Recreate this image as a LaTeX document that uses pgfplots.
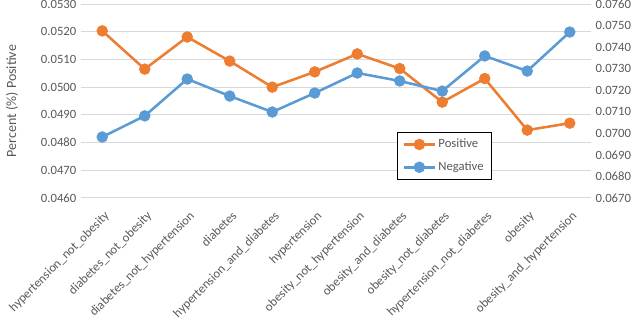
\documentclass[border=0pt]{standalone}
\usepackage{pgfplots}
\pgfplotsset{compat=1.18}
\usetikzlibrary{calc}
\usepackage{fontspec}
\setmainfont{Carlito}
\definecolor{poscol}{HTML}{ED7D31}
\definecolor{negcol}{HTML}{5B9BD5}
\definecolor{txt}{HTML}{595959}
\definecolor{grd}{HTML}{D9D9D9}

\pgfplotsset{
  common/.style={
    scale only axis, width=382.5pt, height=145.5pt,
    xmin=-0.5, xmax=11.5,
    axis line style={draw=none},
    major tick style={draw=none},
    scaled y ticks=false,
    tick label style={font=\fontsize{9.5}{11}\selectfont, text=txt},
    yticklabel style={/pgf/number format/.cd, fixed, fixed zerofill, precision=4, assume math mode=true},
  },
}

\begin{document}
\begin{tikzpicture}
\begin{axis}[
  common, name=ax,
  ymin=0.046, ymax=0.053,
  ytick={0.046,0.047,...,0.0535},
  ymajorgrids, grid style={grd, line width=0.75pt},
  xtick=data,
  xticklabels={hypertension\_not\_obesity, diabetes\_not\_obesity, diabetes\_not\_hypertension, diabetes, hypertension\_and\_diabetes, hypertension, obesity\_not\_hypertension, obesity\_and\_diabetes, obesity\_not\_diabetes, hypertension\_not\_diabetes, obesity, obesity\_and\_hypertension},
  xticklabel style={xshift=1pt, yshift=-9pt, rotate=45, anchor=north east, inner sep=0pt},
  ylabel={Percent (\%) Positive},
  ylabel style={at={(axis description cs:-0.1353,0.5)}, anchor=center, font=\fontsize{10.5}{12}\selectfont, text=txt},
]
\addplot[poscol, line width=1.9pt, mark=*, mark size=3.3pt] coordinates {
  (0,0.05203) (1,0.05065) (2,0.05181) (3,0.05094) (4,0.05000) (5,0.05055)
  (6,0.05120) (7,0.05067) (8,0.04946) (9,0.05031) (10,0.04845) (11,0.04870)
};
\end{axis}
\begin{axis}[
  common,
  ymin=0.067, ymax=0.076,
  ytick={0.067,0.068,...,0.0765},
  axis y line*=right,
  axis x line=none,
  legend style={at={(0.62,0.34)}, anchor=north west, draw=black, line width=0.6pt,
    font=\fontsize{9.5}{11}\selectfont, text=txt, row sep=5pt, inner xsep=4pt, inner ysep=3pt},
  legend cell align=left,
  legend image code/.code={\draw[mark repeat=2, mark phase=2] plot coordinates {(0cm,0cm) (0.4cm,0cm) (0.8cm,0cm)};},
]
\addlegendimage{poscol, line width=1.9pt, mark=*, mark size=3.3pt}
\addlegendentry{Positive}
\addplot[negcol, line width=1.9pt, mark=*, mark size=3.3pt] coordinates {
  (0,0.06983) (1,0.07081) (2,0.07252) (3,0.07173) (4,0.07099) (5,0.07187)
  (6,0.07280) (7,0.07243) (8,0.07196) (9,0.07359) (10,0.07289) (11,0.07470)
};
\addlegendentry{Negative}
\end{axis}
\pgfresetboundingbox
\path ($(ax.south west)+(-60.75pt,-92.25pt)$) rectangle ($(ax.north east)+(36.75pt,3pt)$);
\end{tikzpicture}
\end{document}
